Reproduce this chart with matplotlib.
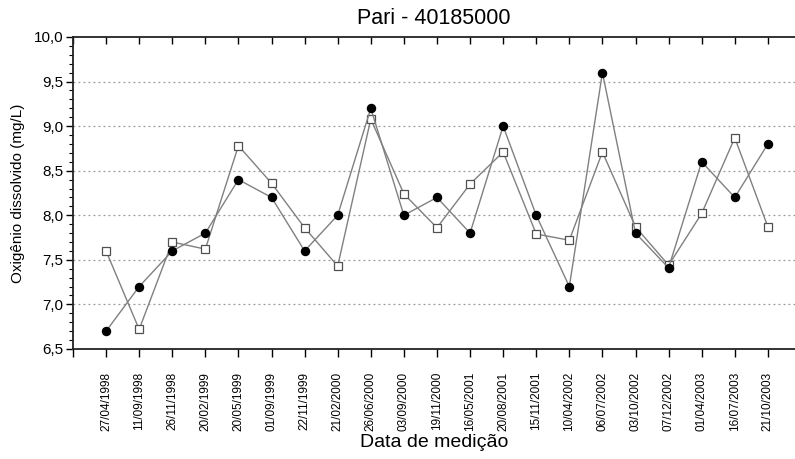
import matplotlib
matplotlib.use('Agg')
import matplotlib.pyplot as plt
from matplotlib.ticker import MultipleLocator, FuncFormatter

plt.rcParams['font.family'] = ['Liberation Sans', 'DejaVu Sans']

datas = ['27/04/1998', '11/09/1998', '26/11/1998', '20/02/1999', '20/05/1999',
         '01/09/1999', '22/11/1999', '21/02/2000', '26/06/2000', '03/09/2000',
         '19/11/2000', '16/05/2001', '20/08/2001', '15/11/2001', '10/04/2002',
         '06/07/2002', '03/10/2002', '07/12/2002', '01/04/2003', '16/07/2003',
         '21/10/2003']

# serie com circulos cheios
od_medido = [6.7, 7.2, 7.6, 7.8, 8.4, 8.2, 7.6, 8.0, 9.2, 8.0, 8.2,
             7.8, 9.0, 8.0, 7.2, 9.6, 7.8, 7.41, 8.6, 8.2, 8.8]
# serie com quadrados abertos
od_calculado = [7.6, 6.72, 7.7, 7.62, 8.78, 8.36, 7.86, 7.43, 9.08, 8.24, 7.86,
                8.35, 8.71, 7.79, 7.72, 8.71, 7.87, 7.44, 8.02, 8.87, 7.87]

x = list(range(1, len(datas) + 1))

fig = plt.figure(figsize=(7.95, 4.59), dpi=100)
ax = fig.add_axes([0.0918, 0.2397, 0.9082, 0.6797])

ax.plot(x, od_calculado, color='#808080', lw=1.0, marker='s', ms=5.8,
        mfc='white', mec='#505050', mew=0.9, zorder=3)
ax.plot(x, od_medido, color='#808080', lw=1.0, marker='o', ms=5.8,
        mfc='black', mec='black', zorder=4)

ax.set_xlim(0, 21.82)
ax.set_ylim(6.5, 10.0)

ax.set_xticks(range(0, len(datas) + 1))
ax.set_xticklabels([''] + datas, rotation=90, fontsize=8.5)
ax.yaxis.set_major_locator(MultipleLocator(0.5))
ax.yaxis.set_minor_locator(MultipleLocator(0.1))
ax.yaxis.set_major_formatter(FuncFormatter(lambda v, p: f'{v:.1f}'.replace('.', ',')))
ax.tick_params(axis='y', labelsize=11, length=5, width=1.0, direction='out', pad=2)
ax.tick_params(axis='y', which='minor', length=3, width=0.8)
ax.tick_params(axis='x', length=6, width=1.0, direction='out', pad=10.5, top=True, labeltop=False)
# ticks do topo apontam para dentro
for t in ax.xaxis.get_major_ticks():
    t.tick2line.set_marker(3)
    t.tick2line.set_markersize(5)

for y in [7.0, 7.5, 8.0, 8.5, 9.0, 9.5]:
    ax.axhline(y, color='#999999', lw=0.9, ls=(0, (1.5, 2.5)), zorder=1)

for s in ['left', 'bottom', 'top']:
    ax.spines[s].set_linewidth(1.3)
    ax.spines[s].set_color('#222222')
ax.spines['right'].set_visible(False)

ax.set_title('Pari - 40185000', fontsize=15.5, pad=9)
ax.set_xlabel('Data de medição', fontsize=14, labelpad=2)
ax.set_ylabel('Oxigênio dissolvido (mg/L)', fontsize=11, labelpad=6)

fig.savefig('out.png', dpi=100)
